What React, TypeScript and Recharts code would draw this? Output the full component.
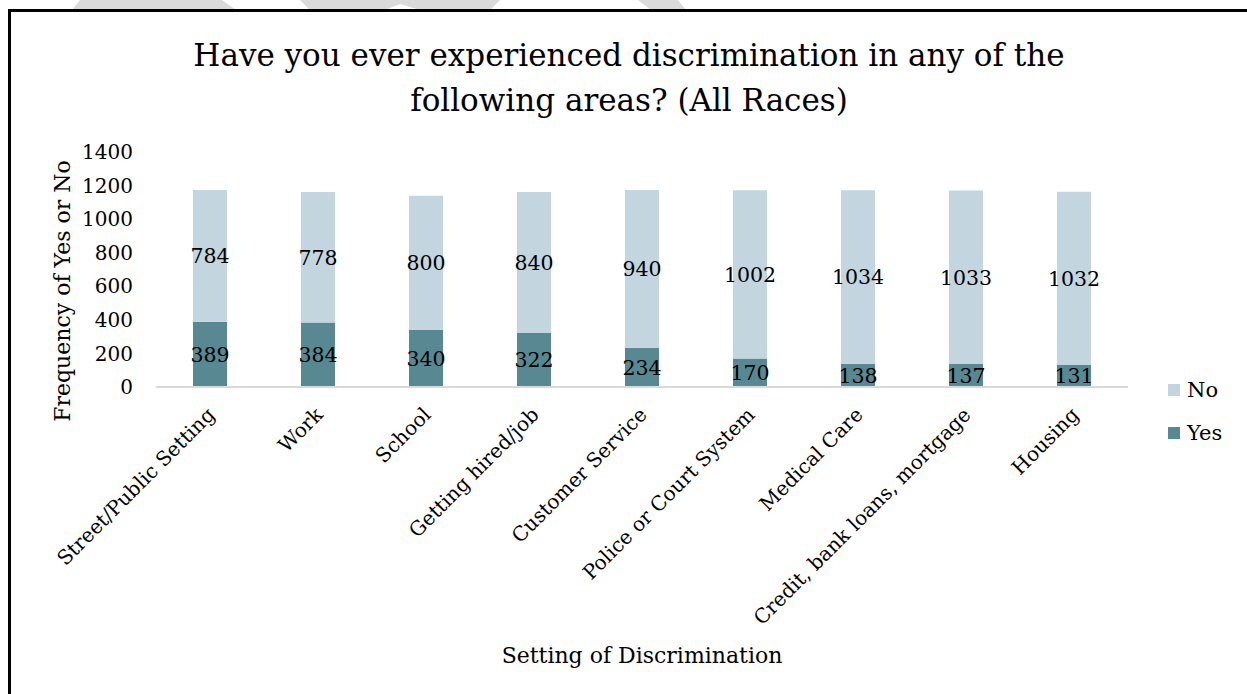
import React from 'react';
import { BarChart, Bar, XAxis, YAxis, LabelList, Label } from 'recharts';

const categories = [
  'Street/Public Setting',
  'Work',
  'School',
  'Getting hired/job',
  'Customer Service',
  'Police or Court System',
  'Medical Care',
  'Credit, bank loans, mortgage',
  'Housing',
];
const yesValues = [389, 384, 340, 322, 234, 170, 138, 137, 131];
const noValues = [784, 778, 800, 840, 940, 1002, 1034, 1033, 1032];
const yTicks = [0, 200, 400, 600, 800, 1000, 1200, 1400];

const titleLines = [
  'Have you ever experienced discrimination in any of the',
  'following areas? (All Races)',
];
const seriesNames = { yes: 'Yes', no: 'No' };
const colors = { yes: '#588993', no: '#C3D5DF' };

const data = categories.map((c, i) => ({ name: c, yes: yesValues[i], no: noValues[i] }));

const FONT = '"DejaVu Serif", serif';

const CategoryTick = (props: any) => {
  const { x, y, payload } = props;
  return (
    <g transform={`translate(${x + 6},${y + 21})`}>
      <text
        x={0}
        y={0}
        transform="rotate(-45)"
        textAnchor="end"
        fontFamily={FONT}
        fontSize={20}
        fill="#000"
      >
        {payload.value}
      </text>
    </g>
  );
};

const YTitle = (props: any) => {
  const { viewBox } = props;
  const cx = viewBox.x + 51;
  const cy = 279;
  return (
    <text
      x={cx}
      y={cy}
      transform={`rotate(-90, ${cx}, ${cy})`}
      textAnchor="middle"
      dominantBaseline="central"
      fontFamily={FONT}
      fontSize={22}
      fill="#000"
    >
      Frequency of Yes or No
    </text>
  );
};

const LegendBox = () => {
  const items = [
    { name: seriesNames.no, color: colors.no },
    { name: seriesNames.yes, color: colors.yes },
  ];
  return (
    <div style={{ position: 'absolute', left: 1157, top: 356, fontFamily: FONT, fontSize: 21 }}>
      {items.map((it) => (
        <div key={it.name} style={{ display: 'flex', alignItems: 'center', height: 43 }}>
          <span style={{ display: 'inline-block', width: 12, height: 12, background: it.color, marginRight: 7 }} />
          <span>{it.name}</span>
        </div>
      ))}
    </div>
  );
};

const Watermark = () => (
  <svg width={1247} height={10} style={{ position: 'fixed', left: 0, top: 0 }}>
    <polygon points="80,0 222,0 236,10 72,10" fill="#DADADA" />
    <polygon points="300,0 500,0 490,10 420,10 400,4 385,10 310,10" fill="#DADADA" />
    <polygon points="638,0 678,0 686,10 651,10" fill="#DADADA" />
  </svg>
);

export default function App() {
  return (
    <>
      <Watermark />
      <div
        style={{
          position: 'fixed',
          left: 8,
          top: 9,
          width: 1239,
          height: 685,
          borderTop: '3px solid #000',
          borderLeft: '3px solid #000',
          background: '#fff',
          overflow: 'hidden',
        }}
      >
        <div
          style={{
            position: 'absolute',
            left: 629 - 11 - 600,
            top: 21,
            width: 1200,
            textAlign: 'center',
            fontFamily: FONT,
            fontSize: 31,
            lineHeight: '45px',
            color: '#000',
          }}
        >
          {titleLines.map((l) => (
            <div key={l}>{l}</div>
          ))}
        </div>
        <BarChart
          width={1233}
          height={680}
          data={data}
          margin={{ top: 140, right: 116, bottom: 24, left: 0 }}
          barSize={34}
        >
          <XAxis
            dataKey="name"
            interval={0}
            height={281}
            tick={<CategoryTick />}
            tickLine={false}
            axisLine={{ stroke: '#D9D9D9', strokeWidth: 2 }}
          >
            <Label
              value="Setting of Discrimination"
              position="insideBottom"
              offset={5}
              style={{ fontFamily: FONT, fontSize: 22, fill: '#000' }}
            />
          </XAxis>
          <YAxis
            width={145}
            domain={[0, 1400]}
            ticks={yTicks}
            tickLine={false}
            axisLine={false}
            tickSize={0}
            tickMargin={23}
            tick={{ fontFamily: FONT, fontSize: 20, fill: '#000' }}
            label={<YTitle />}
          />
          <Bar dataKey="yes" name={seriesNames.yes} stackId="a" fill={colors.yes} isAnimationActive={false}>
            <LabelList dataKey="yes" position="center" style={{ fontFamily: FONT, fontSize: 20.5, fill: '#000' }} />
          </Bar>
          <Bar dataKey="no" name={seriesNames.no} stackId="a" fill={colors.no} isAnimationActive={false}>
            <LabelList dataKey="no" position="center" style={{ fontFamily: FONT, fontSize: 20.5, fill: '#000' }} />
          </Bar>
        </BarChart>
        <LegendBox />
      </div>
    </>
  );
}
